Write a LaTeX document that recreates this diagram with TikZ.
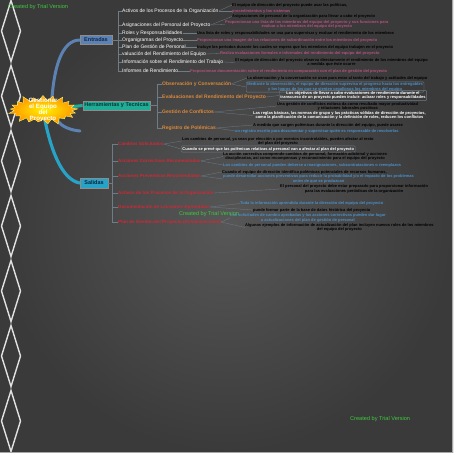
\documentclass[tikz,border=0pt]{standalone}
\usepackage{fontspec}
\setmainfont{Liberation Sans}
\usetikzlibrary{shapes.symbols}
\definecolor{bgin}{HTML}{575757}
\definecolor{bgout}{HTML}{3A3A3A}
\definecolor{dia}{HTML}{E2E2E2}
\definecolor{wm}{HTML}{3EC93E}
\definecolor{entc}{HTML}{5B82B2}
\definecolor{entd}{HTML}{14264A}
\definecolor{herc}{HTML}{20AD97}
\definecolor{herd}{HTML}{0A3530}
\definecolor{salc}{HTML}{28A3C8}
\definecolor{sald}{HTML}{0A2540}
\definecolor{orng}{HTML}{DC8A3A}
\definecolor{pinkc}{HTML}{B5507E}
\definecolor{bluec}{HTML}{4A8FC9}
\definecolor{redc}{HTML}{CC2A36}
\definecolor{brk}{HTML}{6E7C88}
\pgfdeclarelayer{bg}
\pgfdeclarelayer{curves}
\pgfsetlayers{bg,curves,main}
\begin{document}
\begin{tikzpicture}[x=1pt,y=-1pt,
 lbl/.style={anchor=west,inner sep=0pt,text=white,font=\fontsize{5}{6}\selectfont},
 hlbl/.style={anchor=west,inner sep=0pt,text=orng,font=\bfseries\fontsize{5}{6}\selectfont},
 slbl/.style={anchor=west,inner sep=0pt,text=redc,font=\bfseries\fontsize{4.6}{6}\selectfont},
 desc/.style={anchor=west,inner sep=0pt,align=center,font=\bfseries\fontsize{4}{4.1}\selectfont},
 dblack/.style={desc,text=black},
 dpink/.style={desc,text=pinkc},
 dblue/.style={desc,text=bluec},
 dwhite/.style={desc,text=white},
 dbox/.style={draw=brk,line width=0.4pt,inner sep=1.2pt,rounded corners=1pt},
 branch/.style={inner sep=1.5pt,font=\bfseries\fontsize{5.5}{6}\selectfont,draw=white!55!black,line width=0.3pt},
 brkl/.style={draw=brk,line width=0.4pt},
 lnk/.style={draw=brk,line width=0.3pt},
 wmark/.style={text=wm,inner sep=0pt,anchor=west,font=\fontsize{5.6}{6}\selectfont},
]
\useasboundingbox (0,0) rectangle (453,453);
\begin{pgfonlayer}{bg}
\shade[inner color=bgin,outer color=bgout] (0,0) rectangle (453,453);
\foreach \k in {0,...,6}{
  \draw[dia,line width=1.4pt] (11,{31+65*\k-30.5}) -- (20.5,{31+65*\k}) -- (11,{31+65*\k+30.5}) -- (1.5,{31+65*\k}) -- cycle;
}
\end{pgfonlayer}
% central node
\node[starburst, starburst points=21, starburst point height=7pt,
      inner color=yellow!90!orange, outer color=orange!85!yellow, draw=yellow!60!white, line width=0.4pt,
      minimum width=72pt, minimum height=33pt, inner sep=0pt,
      label={[text=white, font=\bfseries\fontsize{6.2}{5.7}\selectfont, align=center, inner sep=0pt]center:Gestionar\\el Equipo\\del\\Proyecto}] (core) at (43,110) {};
% branches
\node[branch, fill=entc, text=entd, minimum width=32pt, minimum height=9pt] (ent) at (96,40) {Entradas};
\node[branch, fill=herc, text=herd, minimum height=9pt] (her) at (116.5,105.5) {Herramientas y Tecnicas};
\node[branch, fill=salc, text=sald, minimum width=28pt, minimum height=10pt] (sal) at (94,183) {Salidas};
\coordinate (etail) at (80,131);
\begin{pgfonlayer}{curves}
\draw[entc, line width=3pt, line cap=round] (etail) .. controls (60,129) and (50,118) .. (52,98) .. controls (54,70) and (61,40) .. (ent.west);
\draw[salc, line width=3.2pt, line cap=round] (core.center) .. controls (50,150) and (62,180) .. (sal.west);
\draw[herc, line width=3pt] (core.center) -- (her.west);
\end{pgfonlayer}

% ---------- Entradas ----------
\node[lbl] (e1) at (122,11) {Activos de los Procesos de la Organización};
\node[lbl] (e2) at (122,25) {Asignaciones del Personal del Proyecto};
\node[lbl] (e3) at (122,33) {Roles y Responsabilidades};
\node[lbl] (e4) at (122,40) {Organigramas del Proyecto};
\node[lbl] (e5) at (122,47) {Plan de Gestión de Personal};
\node[lbl] (e6) at (122,54) {valuación del Rendimiento del Equipo};
\node[lbl] (e7) at (122,62) {Información sobre el Rendimiento del Trabajo};
\node[lbl] (e8) at (122,71) {Informes de Rendimiento};
\coordinate (ej) at (118,40);
\draw[brkl] (ent.east) -- (ej);
\foreach \n in {e1,e2,e3,e4,e5,e6,e7,e8}{\draw[brkl] (ej) |- (\n.west);}

\node[dblack] (d1a) at (232,5) {El equipo de dirección del proyecto puede usar las políticas,};
\node[dpink] (d1b) at (232,11) {procedimientos y los sistemas};
\node[dblack] (d2a) at (232,16.5) {Asignaciones de personal de la organización para llevar a cabo el proyecto};
\node[dpink] (d2b) at (225,24.5) {Proporcionan una lista de los miembros del equipo del proyecto y sus funciones para\\evaluar a los miembros del equipo del proyecto};
\node[dblack] (d3) at (197,33) {Una lista de roles y responsabilidades se usa para supervisar y evaluar el rendimiento de los miembros};
\node[dpink] (d4) at (197,40) {Proporcionan una imagen de las relaciones de subordinación entre los miembros del proyecto};
\node[dblack] (d5) at (197,47) {Incluye los periodos durante los cuales se espera que los miembros del equipo trabajen en el proyecto};
\node[dpink] (d6) at (220,53.5) {Realiza evaluaciones formales e informales del rendimiento del equipo del proyecto};
\node[dblack] (d7) at (235,62.5) {El equipo de dirección del proyecto observa directamente el rendimiento de los miembros del equipo\\a medida que éste ocurre};
\node[dpink] (d8) at (190,71) {Proporcionan documentación sobre el rendimiento en comparación con el plan de gestión del proyecto};
\draw[lnk] (e1.east) -- (d1a.west);
\draw[lnk] (e1.east) -- (d1b.west);
\draw[lnk] (e2.east) -- (d2a.west);
\draw[lnk] (e2.east) -- (d2b.west);
\draw[lnk] (e3.east) -- (d3.west);
\draw[lnk] (e4.east) -- (d4.west);
\draw[lnk] (e5.east) -- (d5.west);
\draw[lnk] (e6.east) -- (d6.west);
\draw[lnk] (e7.east) -- (d7.west);
\draw[lnk] (e8.east) -- (d8.west);

% ---------- Herramientas ----------
\node[hlbl] (h1) at (162,84) {Observación y Conversación};
\node[hlbl] (h2) at (162,97) {Evaluaciones del Rendimiento del Proyecto};
\node[hlbl] (h3) at (162,112) {Gestión de Conflictos};
\node[hlbl] (h4) at (162,128) {Registro de Polémicas};
\coordinate (hj) at (157,105.5);
\draw[brkl] (her.east) -- (hj);
\foreach \n in {h1,h2,h3,h4}{\draw[brkl] (hj) |- (\n.west);}

\node[dblack] (g1a) at (247,78) {La observación y la conversación se usan para estar al tanto del trabajo y actitudes del equipo};
\node[dblue,dbox] (g1b) at (246,87) {Mediante la observación, el equipo de dirección supervisa el progreso hacia los entregables\\y los logros de los que se sienten orgullosos los miembros del equipo};
\node[dwhite,dbox] (g2) at (279,95.5) {Los objetivos de llevar a cabo evaluaciones de rendimiento durante el\\transcurso de un proyecto pueden incluir: aclarar roles y responsabilidades};
\node[dblack] (g3a) at (277,106) {Una gestión de conflictos exitosa da como resultado mayor productividad\\y relaciones laborales positivas};
\node[dwhite] (g3b) at (253,115.5) {Las reglas básicas, las normas de grupo y las prácticas sólidas de dirección de proyectos,\\como la planificación de la comunicación y la definición de roles, reducen los conflictos};
\node[dblack] (g4a) at (253,125) {A medida que surgen polémicas durante la dirección del equipo, puede usarse};
\node[dblue] (g4b) at (235,131) {un registro escrito para documentar y supervisar quién es responsable de resolverlas};
\draw[lnk] (h1.east) -- (g1a.west);
\draw[lnk] (h1.east) -- (g1b.west);
\draw[lnk] (h2.east) -- (g2.west);
\draw[lnk] (h3.east) -- (g3a.west);
\draw[lnk] (h3.east) -- (g3b.west);
\draw[lnk] (h4.east) -- (g4a.west);
\draw[lnk] (h4.east) -- (g4b.west);

% ---------- Salidas ----------
\node[slbl] (s1) at (118,144) {Cambios Solicitados};
\node[slbl] (s2) at (118,161) {Acciones Correctivas Recomendadas};
\node[slbl] (s3) at (118,176) {Acciones Preventivas Recomendadas};
\node[slbl] (s4) at (118,193) {Activos de los Procesos de la Organización};
\node[slbl] (s5) at (118,207) {Documentación de Lecciones Aprendidas};
\node[slbl] (s6) at (118,222) {Plan de Gestión del Proyecto (Actualizaciones)};
\coordinate (sj) at (112,183);
\draw[brkl] (sal.east) -- (sj);
\foreach \n in {s1,s2,s3,s4,s5,s6}{\draw[brkl] (sj) |- (\n.west);}

\node[dblack] (t1a) at (182,141) {Los cambios de personal, ya sean por elección o por eventos incontrolables, pueden afectar al resto\\del plan del proyecto};
\node[dwhite,dbox] (t1b) at (181,149) {Cuando se prevé que las polémicas relativas al personal van a afectar al plan del proyecto};
\node[dblack] (t2a) at (223,156.5) {La acción correctiva comprende cambios de personal, formación adicional y acciones\\disciplinarias, así como recompensas y reconocimiento para el equipo del proyecto};
\node[dblue] (t2b) at (223,165) {Los cambios de personal pueden deberse a reasignaciones, subcontrataciones o reemplazos};
\node[dblack] (t3a) at (222,172) {Cuando el equipo de dirección identifica polémicas potenciales de recursos humanos,};
\node[dblue] (t3b) at (223,179) {puede desarrollar acciones preventivas para reducir la probabilidad y/o el impacto de los problemas\\antes de que se produzcan};
\node[dblack] (t4) at (280,189) {El personal del proyecto debe estar preparado para proporcionar información\\para las evaluaciones periódicas de la organización};
\node[dblue] (t5a) at (240,203.5) {Toda la información aprendida durante la dirección del equipo del proyecto};
\node[dblack] (t5b) at (253,210) {puede formar parte de la base de datos histórica del proyecto};
\node[dblue] (t6a) at (230,218) {Las solicitudes de cambio aprobadas y las acciones correctivas pueden dar lugar\\a actualizaciones del plan de gestión de personal};
\node[dblack] (t6b) at (245,227.5) {Algunos ejemplos de información de actualización del plan incluyen nuevos roles de los miembros\\del equipo del proyecto};
\draw[lnk] (s1.east) -- (t1a.west);
\draw[lnk] (s1.east) -- (t1b.west);
\draw[lnk] (s2.east) -- (t2a.west);
\draw[lnk] (s2.east) -- (t2b.west);
\draw[lnk] (s3.east) -- (t3a.west);
\draw[lnk] (s3.east) -- (t3b.west);
\draw[lnk] (s4.east) -- (t4.west);
\draw[lnk] (s5.east) -- (t5a.west);
\draw[lnk] (s5.east) -- (t5b.west);
\draw[lnk] (s6.east) -- (t6a.west);
\draw[lnk] (s6.east) -- (t6b.west);

% watermarks
\node[wmark] (w1) at (8,7) {Created by Trial Version};
\node[wmark] (w2) at (179,214) {Created by Trial Version};
\node[wmark] (w3) at (350,419) {Created by Trial Version};
% frame
\draw[white!65!black, line width=0.8pt] (0,452.6) -- (452.6,452.6) -- (452.6,0);
\end{tikzpicture}
\end{document}
